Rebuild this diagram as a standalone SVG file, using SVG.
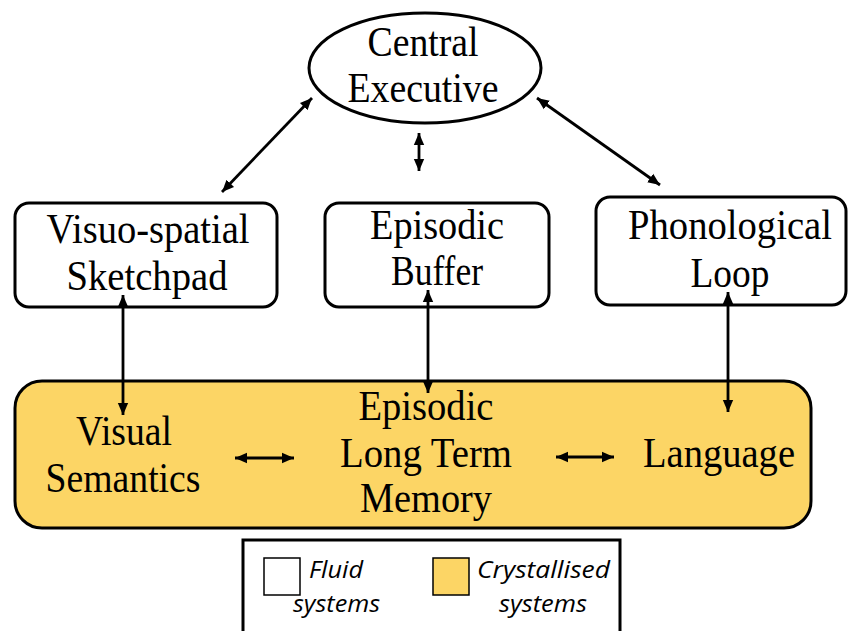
<svg xmlns="http://www.w3.org/2000/svg" width="849" height="631" viewBox="0 0 849 631">
<style>
.t{font-family:"Liberation Serif","Times New Roman",serif;font-size:42px;fill:#000;}
.l{font-family:"Open Sans","Liberation Sans",Arial,sans-serif;font-size:23px;font-style:italic;fill:#000;}
.box{fill:#fff;stroke:#000;stroke-width:3;}
.cry{fill:#FCD565;stroke:#000;stroke-width:3;}
.arr{stroke:#000;stroke-width:2.8;fill:none;marker-start:url(#ah);marker-end:url(#ah);}
</style>
<defs>
<marker id="ah" markerUnits="userSpaceOnUse" markerWidth="14" markerHeight="14" viewBox="0 0 14 14" refX="12" refY="7" orient="auto-start-reverse">
<path d="M0,1.8 L12,7 L0,12.2 Z" fill="#000"/>
</marker>
</defs>
<rect width="849" height="631" fill="#fff"/>
<g id="crystallised">
<rect class="cry" x="15" y="381" width="796" height="147" rx="27"/>
</g>
<g id="central-executive">
<ellipse class="box" cx="425" cy="68" rx="116" ry="55"/>
<text class="t" x="423" y="56" text-anchor="middle" textLength="111" lengthAdjust="spacingAndGlyphs">Central</text>
<text class="t" x="423" y="102" text-anchor="middle" textLength="151" lengthAdjust="spacingAndGlyphs">Executive</text>
</g>
<g id="visuo-spatial">
<rect class="box" x="15" y="203" width="262" height="104" rx="14"/>
<text class="t" x="148" y="243" text-anchor="middle" textLength="203" lengthAdjust="spacingAndGlyphs">Visuo-spatial</text>
<text class="t" x="147" y="290" text-anchor="middle" textLength="161" lengthAdjust="spacingAndGlyphs">Sketchpad</text>
</g>
<g id="episodic-buffer">
<rect class="box" x="325" y="203" width="224" height="104" rx="14"/>
<text class="t" x="437" y="239" text-anchor="middle" textLength="134" lengthAdjust="spacingAndGlyphs">Episodic</text>
<text class="t" x="437" y="285" text-anchor="middle" textLength="92" lengthAdjust="spacingAndGlyphs">Buffer</text>
</g>
<g id="phonological-loop">
<rect class="box" x="596" y="197" width="250" height="108" rx="14"/>
<text class="t" x="730" y="239" text-anchor="middle" textLength="204" lengthAdjust="spacingAndGlyphs">Phonological</text>
<text class="t" x="730" y="287" text-anchor="middle" textLength="79" lengthAdjust="spacingAndGlyphs">Loop</text>
</g>
<g id="visual-semantics">
<text class="t" x="124" y="445" text-anchor="middle" textLength="96" lengthAdjust="spacingAndGlyphs">Visual</text>
<text class="t" x="123" y="492" text-anchor="middle" textLength="155" lengthAdjust="spacingAndGlyphs">Semantics</text>
</g>
<g id="episodic-ltm">
<text class="t" x="426" y="420" text-anchor="middle" textLength="135" lengthAdjust="spacingAndGlyphs">Episodic</text>
<text class="t" x="426" y="467" text-anchor="middle" textLength="172" lengthAdjust="spacingAndGlyphs">Long Term</text>
<text class="t" x="426" y="512" text-anchor="middle" textLength="132" lengthAdjust="spacingAndGlyphs">Memory</text>
</g>
<g id="language">
<text class="t" x="719" y="467" text-anchor="middle" textLength="152" lengthAdjust="spacingAndGlyphs">Language</text>
</g>
<g id="connectors">
<line class="arr" x1="312" y1="98" x2="222" y2="192"/>
<line class="arr" x1="419" y1="133" x2="419" y2="171"/>
<line class="arr" x1="537" y1="98" x2="660" y2="185"/>
<line class="arr" x1="123" y1="295" x2="123" y2="415"/>
<line class="arr" x1="428" y1="290" x2="428" y2="393"/>
<line class="arr" x1="728" y1="292" x2="728" y2="412"/>
<line class="arr" x1="235" y1="458" x2="294" y2="458"/>
<line class="arr" x1="556" y1="457" x2="614" y2="457"/>
</g>
<g id="legend">
<rect x="243" y="540" width="377" height="110" fill="#fff" stroke="#000" stroke-width="3"/>
<rect x="264" y="558" width="36" height="37" fill="#fff" stroke="#000" stroke-width="1.5"/>
<rect x="433" y="558" width="36" height="37" fill="#FCD565" stroke="#000" stroke-width="1.5"/>
<text class="l" x="309" y="578" textLength="54" lengthAdjust="spacingAndGlyphs">Fluid</text>
<text class="l" x="293" y="612" textLength="87" lengthAdjust="spacingAndGlyphs">systems</text>
<text class="l" x="477" y="578" textLength="133" lengthAdjust="spacingAndGlyphs">Crystallised</text>
<text class="l" x="499" y="612" textLength="88" lengthAdjust="spacingAndGlyphs">systems</text>
</g>
</svg>
